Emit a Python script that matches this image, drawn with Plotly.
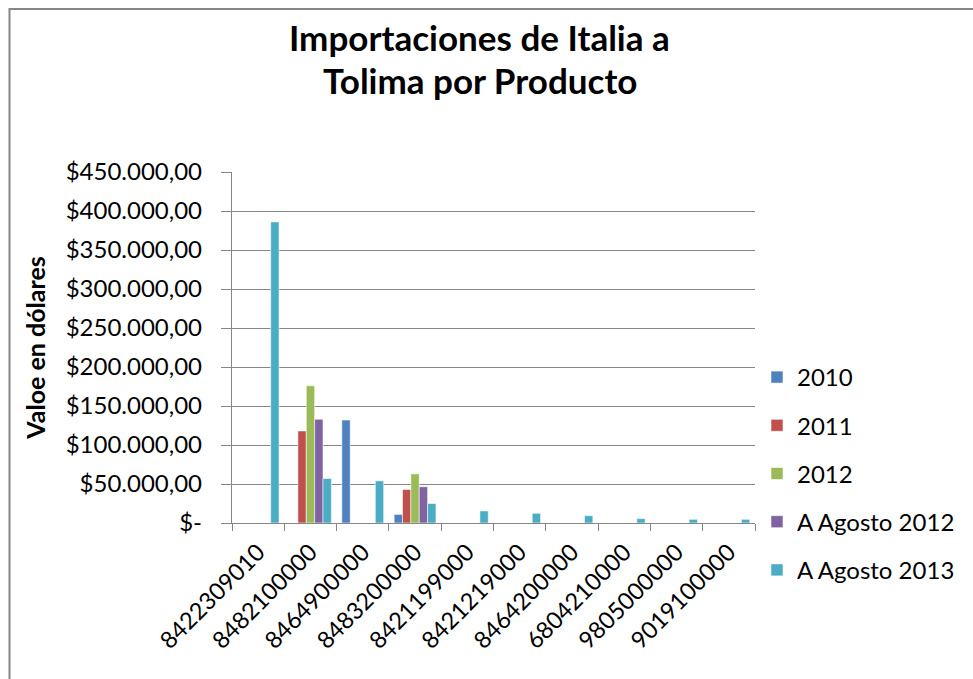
import plotly.graph_objects as go

categories = ["8422309010", "8482100000", "8464900000", "8483200000", "8421199000",
              "8421219000", "8464200000", "6804210000", "9805000000", "9019100000"]
series_names = ["2010", "2011", "2012", "A Agosto 2012", "A Agosto 2013"]
v2010 = [None, None, 132000, 11000, None, None, None, None, None, None]
v2011 = [None, 118000, None, 43000, None, None, None, None, None, None]
v2012 = [None, 176000, None, 63000, None, None, None, None, None, None]
v_ago2012 = [None, 133000, None, 46500, None, None, None, None, None, None]
v_ago2013 = [386000, 57000, 54000, 25000, 15500, 12400, 9400, 5600, 4700, 4700]
series_values = [v2010, v2011, v2012, v_ago2012, v_ago2013]
colors = ["#4F81BD", "#C0504D", "#9BBB59", "#8064A2", "#4BACC6"]

tick_vals = [0, 50000, 100000, 150000, 200000, 250000, 300000, 350000, 400000, 450000]
tick_text = ["$-", "$50.000,00", "$100.000,00", "$150.000,00", "$200.000,00",
             "$250.000,00", "$300.000,00", "$350.000,00", "$400.000,00", "$450.000,00"]
title_lines = ["Importaciones de Italia a", "Tolima por Producto"]

FONT = "Lato, 'Open Sans', sans-serif"
W, H = 973, 679
L, R, T, B = 232, 218, 172, 156
pw, ph = W - L - R, H - T - B

fig = go.Figure()
for name, vals, col in zip(series_names, series_values, colors):
    fig.add_trace(go.Bar(
        x=categories, y=vals, name=name, legendgroup=name,
        marker=dict(color=col, line=dict(color="rgba(255,255,255,0.55)", width=1)),
    ))

def px_x(p):
    return (p - L) / pw

def px_y(p):
    return (H - B - p) / ph

fig.update_layout(
    width=W, height=H,
    margin=dict(l=L, r=R, t=T, b=B, autoexpand=False),
    paper_bgcolor="white", plot_bgcolor="white",
    font=dict(family=FONT, color="black", size=23),
    barmode="group", bargap=0.2, bargroupgap=0,
    legend=dict(
        x=px_x(757), xanchor="left", y=px_y(355), yanchor="top",
        font=dict(family=FONT, size=24, color="black"),
        tracegroupgap=14, itemwidth=30, bgcolor="rgba(0,0,0,0)",
    ),
    showlegend=True,
)

for i, (line, ypx) in enumerate(zip(title_lines, [37, 80])):
    fig.add_annotation(
        text="<b>" + line + "</b>", xref="paper", yref="paper",
        x=px_x(479.5), y=px_y(ypx), xanchor="center", yanchor="middle",
        showarrow=False, font=dict(family=FONT, size=35, color="black"),
    )

fig.update_xaxes(
    type="category", tickson="boundaries", ticks="outside", ticklen=7,
    tickcolor="#868686", tickwidth=1.3,
    showline=True, linecolor="#868686", linewidth=1.3,
    showgrid=False, tickangle=-45, ticklabelstandoff=5,
    tickfont=dict(family=FONT, size=23.5, color="black"),
)
fig.update_yaxes(
    range=[0, 450000], tickvals=tick_vals, ticktext=tick_text,
    ticks="outside", ticklen=10, tickcolor="#868686", tickwidth=1.3,
    showline=True, linecolor="#868686", linewidth=1.3,
    showgrid=True, gridcolor="#868686", gridwidth=1.3,
    zeroline=False, ticklabelstandoff=14,
    tickfont=dict(family=FONT, size=24, color="black"),
    title=dict(text="<b>Valoe en dólares</b>", font=dict(family=FONT, size=25, color="black"),
               standoff=12),
)

# chart-area border (top and left edges visible in the frame)
fig.add_shape(type="line", xref="paper", yref="paper",
              x0=px_x(9), x1=px_x(990), y0=px_y(9), y1=px_y(9),
              line=dict(color="#868686", width=2), layer="above")
fig.add_shape(type="line", xref="paper", yref="paper",
              x0=px_x(9.5), x1=px_x(9.5), y0=px_y(8), y1=px_y(700),
              line=dict(color="#868686", width=2), layer="above")

fig.write_html("out.html", config={"displayModeBar": False},
               post_script="document.body.style.margin='0';document.body.style.padding='0';")
